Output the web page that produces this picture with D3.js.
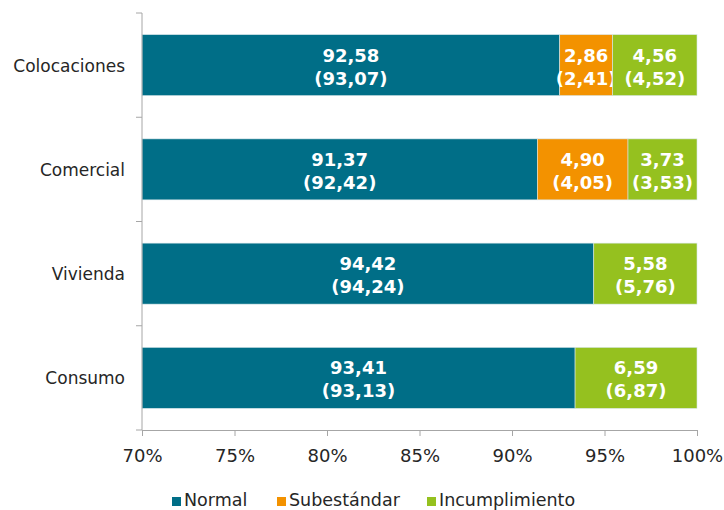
<!DOCTYPE html>
<html><head><meta charset="utf-8">
<script src="https://cdn.jsdelivr.net/npm/d3@7"></script>
<style>body{margin:0;background:#fff}svg{display:block}text{font-family:"DejaVu Sans",Verdana,sans-serif}</style>
</head><body><svg id="c" width="724" height="510"></svg>
<script>
const categories = ["Colocaciones","Comercial","Vivienda","Consumo"];
const seriesNames = ["Normal","Subestándar","Incumplimiento"];
const normal = [92.58, 91.37, 94.42, 93.41];
const subestandar = [2.86, 4.90, 0, 0];
const incumplimiento = [4.56, 3.73, 5.58, 6.59];
const normalPrev = [93.07, 92.42, 94.24, 93.13];
const subestandarPrev = [2.41, 4.05, null, null];
const incumplimientoPrev = [4.52, 3.53, 5.76, 6.87];
const xTicks = [70,75,80,85,90,95,100];
const colors = ["#006e87","#f39200","#95c11f"];

const svg = d3.select("#c");
const m = {l:142, r:697, t:13, b:430};
const x = d3.scaleLinear().domain([70,100]).range([m.l, m.r]);
const y = d3.scaleBand().domain(categories).range([m.t, m.b]).paddingInner(0.415).paddingOuter(0.2075);

const cur = [normal, subestandar, incumplimiento];
const prev = [normalPrev, subestandarPrev, incumplimientoPrev];
const fmt = v => v.toFixed(2).replace(".", ",");

categories.forEach((c, i) => {
  let start = 70;
  cur.forEach((s, k) => {
    const v = s[i];
    if (!v) return;
    const end = k===0 ? v : start + v;
    const xa = x(start), xb = x(end);
    svg.append("rect").attr("x", xa).attr("y", y(c)).attr("width", xb - xa).attr("height", y.bandwidth())
      .attr("fill", colors[k]).attr("stroke", "#d8e6ea").attr("stroke-width", 0.6);
    const cx = (xa + xb) / 2, cy = y(c) + y.bandwidth()/2;
    const t = svg.append("text").attr("x", cx).attr("text-anchor","middle").attr("fill","#fff")
      .attr("font-size", 18).attr("font-weight","bold");
    t.append("tspan").attr("x", cx).attr("y", cy - 3.5).text(fmt(v));
    t.append("tspan").attr("x", cx).attr("y", cy + 19.5).text("(" + fmt(prev[k][i]) + ")");
    start = end;
  });
});

// y axis
const ax = "#a6a6a6";
svg.append("line").attr("x1", m.l).attr("x2", m.l).attr("y1", m.t).attr("y2", m.b).attr("stroke", ax);
const step = (m.b - m.t) / categories.length;
d3.range(categories.length + 1).forEach(i => {
  svg.append("line").attr("x1", m.l - 6).attr("x2", m.l).attr("y1", m.t + i*step).attr("y2", m.t + i*step).attr("stroke", ax);
});
categories.forEach(c => {
  svg.append("text").attr("x", 125).attr("y", y(c) + y.bandwidth()/2 + 6.5).attr("text-anchor","end")
    .attr("font-size", 17).attr("fill","#262626").text(c);
});

// x axis
const xAxis = svg.append("g").attr("transform", `translate(0,${m.b})`)
  .call(d3.axisBottom(x).tickValues(xTicks).tickSize(6).tickPadding(13).tickFormat(d => d + "%"));
xAxis.select(".domain").attr("stroke", ax);
xAxis.selectAll(".tick line").attr("stroke", ax);
xAxis.selectAll("text").attr("font-size", 18).attr("fill","#262626").attr("font-family","DejaVu Sans, sans-serif");

// legend
const legX = [172, 277, 427];
seriesNames.forEach((n, k) => {
  svg.append("rect").attr("x", legX[k]).attr("y", 497).attr("width", 9).attr("height", 9).attr("fill", colors[k]);
  svg.append("text").attr("x", legX[k] + 12).attr("y", 506).attr("font-size", 17.5).attr("fill","#262626").text(n);
});
</script></body></html>
